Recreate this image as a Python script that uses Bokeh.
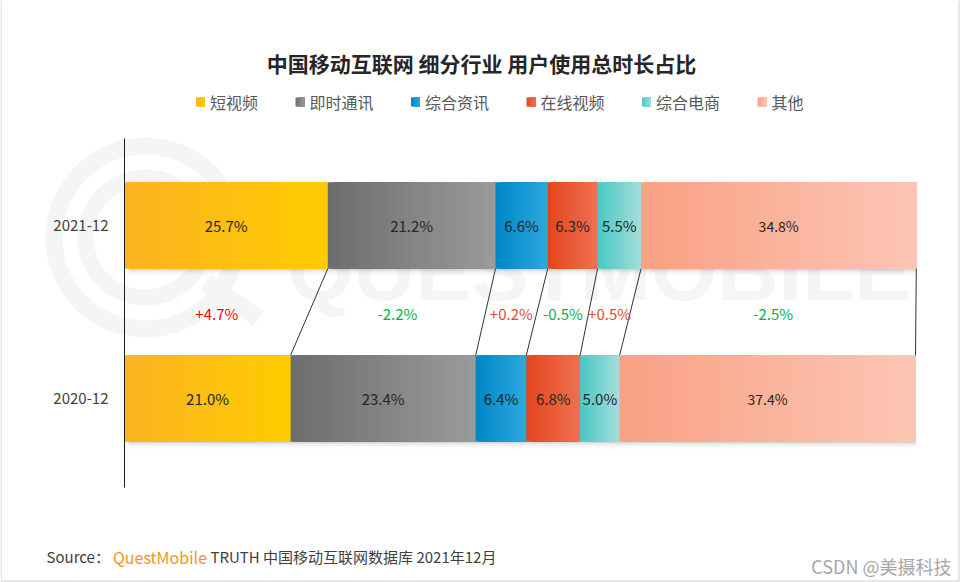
from bokeh.plotting import figure
from bokeh.models import Range1d, LinearAxis, FixedTicker
from bokeh.core.properties import value
from bokeh.embed import file_html
from bokeh.resources import INLINE

# ---------------- data ----------------
TITLE = "中国移动互联网 细分行业 用户使用总时长占比"
CATEGORIES = ["短视频", "即时通讯", "综合资讯", "在线视频", "综合电商", "其他"]
PERIODS = ["2021-12", "2020-12"]
SHARE_2021 = [25.7, 21.2, 6.6, 6.3, 5.5, 34.8]
SHARE_2020 = [21.0, 23.4, 6.4, 6.8, 5.0, 37.4]
CHANGE_LABELS = ["+4.7%", "-2.2%", "+0.2%", "-0.5%", "+0.5%", "-2.5%"]
SOURCE_PARTS = ["Source：", "QuestMobile", "TRUTH 中国移动互联网数据库 2021年12月"]
WATERMARK = "QUESTMOBILE"
CREDIT = "CSDN @美摄科技"

# ---------------- styles ----------------
GRADIENTS = [("#FBB322", "#FFCC00"), ("#6D6D6D", "#9B9B9B"), ("#0087C6", "#2CA9DF"),
             ("#E4451C", "#EE7152"), ("#49C7C4", "#A4DEDA"), ("#F9A184", "#FCC6B5")]
CHANGE_COLORS = ["#FF0000", "#00B050", "#E8482A", "#00B050", "#E8482A", "#00B050"]
LABEL_SIZES = ["15px", "15px", "15px", "15px", "15px", "14px"]
FONT = "Noto Sans CJK SC"
TEXT_DARK = "#262626"

W, H = 960, 582
PX_PER_PCT = 7.91
PX_PER_ROW = 173.0
BAR_H = 0.5


def xd(px):
    return (px - 124) / PX_PER_PCT


def yd(py):
    return (398 - py) / PX_PER_ROW


def hex2rgb(h):
    h = h.lstrip("#")
    return [int(h[i:i + 2], 16) for i in (0, 2, 4)]


def mix(c0, c1, t):
    a, b = hex2rgb(c0), hex2rgb(c1)
    return "#%02x%02x%02x" % tuple(int(round(a[i] + (b[i] - a[i]) * t)) for i in range(3))


p = figure(width=W, height=H, output_backend="svg", toolbar_location=None,
           x_range=Range1d(xd(0), xd(W)), y_range=Range1d(yd(H), yd(0)),
           x_axis_type=None, y_axis_type=None, min_border=0,
           outline_line_color=None, background_fill_color="white",
           border_fill_color="white")
p.grid.visible = False

# ---------------- frame border of the picture ----------------
p.segment(x0=[xd(0.5), xd(958.5), xd(0.5)], y0=[yd(0), yd(0), yd(580.5)],
          x1=[xd(0.5), xd(958.5), xd(958.5)], y1=[yd(580.5), yd(580.5), yd(580.5)],
          line_color="#D0D0D0", line_width=1)

# ---------------- watermark ----------------
WM = "#F5F5F5"
p.annulus(x=[xd(145)], y=[yd(237)], inner_radius=83, outer_radius=100,
          inner_radius_units="screen", outer_radius_units="screen",
          fill_color=WM, line_color=None)
p.annulus(x=[xd(145)], y=[yd(237)], inner_radius=52, outer_radius=68,
          inner_radius_units="screen", outer_radius_units="screen",
          fill_color=WM, line_color=None)
p.segment(x0=[xd(205)], y0=[yd(282)], x1=[xd(258)], y1=[yd(318)],
          line_color=WM, line_width=18, line_cap="butt")
p.text(x=[xd(287)], y=[yd(270)], text=[WATERMARK], text_font=value("Liberation Sans"),
       text_font_style="bold", text_font_size="85px", text_color=WM,
       text_align="left", text_baseline="middle")

# ---------------- bars ----------------
rows = [(1.0, SHARE_2021), (0.0, SHARE_2020)]
cums = []
centers = []
for yc, shares in rows:
    total = sum(shares)
    bottom = yc - BAR_H / 2
    # soft shadow
    alphas = [0.17, 0.12, 0.08, 0.055, 0.035, 0.02, 0.01]
    for k, a in enumerate(alphas):
        p.quad(left=[0.5], right=[total], top=[bottom - k / PX_PER_ROW],
               bottom=[bottom - (k + 1) / PX_PER_ROW],
               fill_color="black", fill_alpha=a, line_color=None)
    start = 0.0
    cum = []
    cen = []
    for i, v in enumerate(shares):
        n = max(6, int(v * PX_PER_PCT / 3))
        lefts = [start + v * j / n for j in range(n)]
        rights = [start + v] * n
        cols = [mix(GRADIENTS[i][0], GRADIENTS[i][1], (j + 0.5) / n) for j in range(n)]
        p.quad(left=lefts, right=rights, top=[yc + BAR_H / 2] * n,
               bottom=[yc - BAR_H / 2] * n, fill_color=cols, line_color=None)
        p.text(x=[start + v / 2], y=[yc], text=["%.1f%%" % v],
               text_font=value(FONT), text_font_size=LABEL_SIZES[i],
               text_color=TEXT_DARK, text_align="center", text_baseline="middle")
        cen.append(start + v / 2)
        start += v
        cum.append(start)
    cums.append(cum)
    centers.append(cen)

# connectors between the two bars
p.segment(x0=cums[0], y0=[1.0 - BAR_H / 2] * 6, x1=cums[1], y1=[BAR_H / 2] * 6,
          line_color="#333333", line_width=1)

# change labels
p.text(x=[(a + b) / 2 for a, b in zip(centers[0], centers[1])], y=[0.49] * 6,
       text=CHANGE_LABELS, text_color=CHANGE_COLORS, text_font=value(FONT),
       text_font_size="15px", text_align="center", text_baseline="middle")

# ---------------- axis ----------------
ax = LinearAxis(fixed_location=0, ticker=FixedTicker(ticks=[0, 1]),
                major_label_overrides={0: PERIODS[1], 1: PERIODS[0]},
                bounds=(yd(487), yd(138)), major_tick_out=0, major_tick_in=0,
                minor_tick_out=0, minor_tick_in=0, major_label_standoff=16,
                axis_line_color="#1A1A1A", axis_line_width=1,
                major_label_text_font=FONT, major_label_text_font_size="15px",
                major_label_text_color="#404040")
p.add_layout(ax, "left")

# ---------------- title ----------------
p.text(x=[xd(481)], y=[yd(62)], text=[TITLE], text_font=value(FONT),
       text_font_style="bold", text_font_size="21px", text_color=TEXT_DARK,
       text_align="center", text_baseline="middle")

# ---------------- legend ----------------
lx = 195.5
ly = 101.5
for i, name in enumerate(CATEGORIES):
    n = 5
    p.quad(left=[xd(lx + 9 * j / n) for j in range(n)],
           right=[xd(lx + 9)] * n,
           top=[yd(ly - 4.5)] * n, bottom=[yd(ly + 4.5)] * n,
           fill_color=[mix(GRADIENTS[i][0], GRADIENTS[i][1], (j + 0.5) / n) for j in range(n)],
           line_color=None)
    p.text(x=[xd(lx + 14)], y=[yd(ly)], text=[name], text_font=value(FONT),
           text_font_size="16px", text_color="#595959", text_align="left",
           text_baseline="middle")
    lx += 14 + 16 * len(name) + 37.5

# ---------------- source & credit ----------------
src_x = [46, 112.5, 210]
src_c = ["#404040", "#F7941D", "#404040"]
src_s = ["15px", "16px", "15px"]
for sx, txt, c, s in zip(src_x, SOURCE_PARTS, src_c, src_s):
    p.text(x=[xd(sx)], y=[yd(556)], text=[txt], text_font=value(FONT),
           text_font_size=s, text_color=c, text_align="left",
           text_baseline="middle")
p.text(x=[xd(951)], y=[yd(565)], text=[CREDIT], text_font=value(FONT),
       text_font_size="18px", text_color="#A6A6A6", text_align="right",
       text_baseline="middle")

open("out.html", "w").write(file_html(p, INLINE))
